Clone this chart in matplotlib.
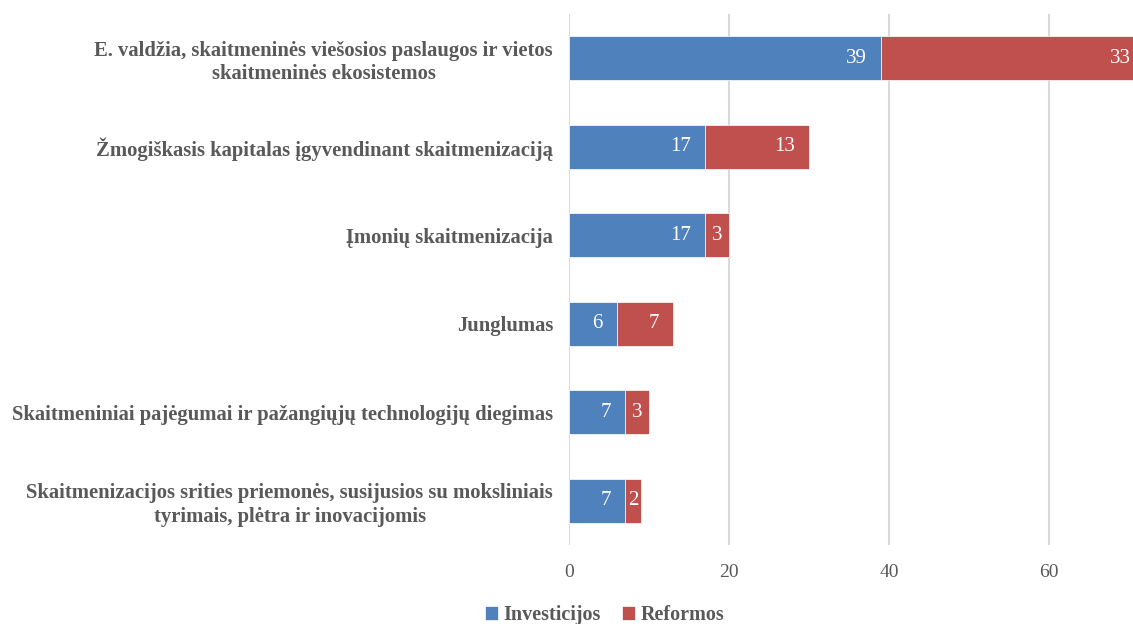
import matplotlib.pyplot as plt
import numpy as np

categories = [
    'E. valdžia, skaitmeninės viešosios paslaugos ir vietos\nskaitmeninės ekosistemos',
    'Žmogiškasis kapitalas įgyvendinant skaitmenizaciją',
    'Įmonių skaitmenizacija',
    'Junglumas',
    'Skaitmeniniai pajėgumai ir pažangiųjų technologijų diegimas',
    'Skaitmenizacijos srities priemonės, susijusios su moksliniais\ntyrimais, plėtra ir inovacijomis',
]
investicijos = [39, 17, 17, 6, 7, 7]
reformos = [33, 13, 3, 7, 3, 2]
xticks = [0, 20, 40, 60]

plt.rcParams['font.family'] = ['Liberation Serif', 'DejaVu Serif']

blue = '#4F81BD'
red = '#C0504D'
grey = '#595959'

fig = plt.figure(figsize=(11.33, 6.24), dpi=100)
ax = fig.add_axes([0.5022, 0.1266, 0.4978, 0.851])

y = np.arange(len(categories))
inv = np.array(investicijos)
ref = np.array(reformos)
b1 = ax.barh(y, inv, height=0.5, color=blue, edgecolor='white', linewidth=0.5, label='Investicijos', zorder=3)
b2 = ax.barh(y, ref, left=inv, height=0.5, color=red, edgecolor='white', linewidth=0.5, label='Reformos', zorder=3)

# value labels near the inner end of each segment
def put_labels(lefts, vals):
    for yi, l, v in zip(y, lefts, vals):
        w = 1.3 * len(str(v))
        pad = min(1.75, (v - w) / 2)
        ax.text(l + v - pad, yi, str(v), ha='right', va='center', color='white',
                fontsize=15, zorder=4, clip_on=False)

put_labels(np.zeros(len(inv)), inv)
put_labels(inv, ref)

ax.set_xlim(0, 70.5)
ax.set_ylim(len(categories) - 0.5, -0.5)
ax.set_xticks(xticks)
ax.set_yticks(y)
ax.set_yticklabels(categories, fontsize=14.9, fontweight='bold', color=grey,
                   ha='right', multialignment='center', linespacing=1.25)
ax.tick_params(axis='y', length=0, pad=11.5)
ax.tick_params(axis='x', length=0, labelsize=14, labelcolor=grey, pad=14)
ax.grid(axis='x', color='#D9D9D9', linewidth=1.5, zorder=0)
for s in ax.spines.values():
    s.set_visible(False)

fig.legend(handles=[b1, b2], loc='center', bbox_to_anchor=(0.5335, 0.0144), ncol=2,
           frameon=False, prop={'size': 14.5, 'weight': 'bold'}, labelcolor=grey,
           handlelength=0.65, handleheight=0.65, handletextpad=0.25, columnspacing=1.1,
           borderpad=0)

fig.savefig('out.png', dpi=100)
